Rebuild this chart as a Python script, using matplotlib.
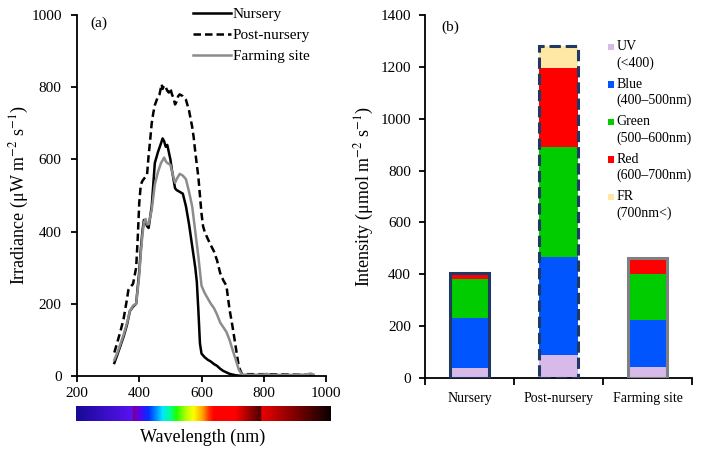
import numpy as np
import matplotlib
matplotlib.use("Agg")
import matplotlib.pyplot as plt
from matplotlib.colors import LinearSegmentedColormap
from matplotlib.patches import Rectangle

plt.rcParams["font.family"] = ["Liberation Serif", "DejaVu Serif"]
plt.rcParams["mathtext.fontset"] = "stix"

# ── panel (a): irradiance spectra ─────────────────────────────────────────────
wl_nursery = [320, 330, 340, 350, 360, 370, 380, 390, 400, 405, 410, 415, 420, 425,
              430, 435, 440, 450, 460, 470, 475, 480, 485, 490, 500, 505, 510, 515,
              520, 530, 540, 550, 560, 570, 580, 585, 590, 595, 600, 610, 620, 630,
              640, 650, 660, 670, 680, 690, 700, 710, 720, 730, 800, 960]
irr_nursery = [36, 60, 85, 110, 140, 180, 192, 200, 290, 350, 400, 432, 428, 415,
               410, 440, 470, 590, 620, 645, 658, 650, 635, 640, 600, 570, 545, 520,
               515, 510, 505, 470, 420, 360, 300, 260, 180, 90, 62, 52, 45, 40,
               33, 28, 20, 14, 10, 6, 4, 2, 1, 0, 0, 0]

wl_post = [320, 330, 340, 350, 360, 365, 370, 380, 390, 395, 400, 405, 410, 420, 425,
           430, 435, 440, 445, 450, 460, 465, 470, 472, 475, 480, 485, 490, 495, 500,
           505, 510, 515, 520, 525, 530, 540, 550, 560, 570, 575, 580, 590, 600, 605,
           610, 620, 630, 640, 650, 660, 670, 680, 690, 700, 710, 720, 730, 800, 960]
irr_post = [65, 95, 125, 160, 210, 238, 245, 255, 300, 380, 480, 530, 540, 552, 557,
            610, 653, 700, 728, 750, 774, 780, 800, 808, 795, 805, 800, 790, 785, 797,
            780, 770, 752, 760, 775, 780, 775, 765, 735, 690, 660, 620, 550, 450, 415,
            400, 380, 362, 345, 320, 285, 265, 250, 185, 135, 80, 25, 5, 5, 3]

wl_farm = [320, 330, 340, 350, 360, 370, 380, 390, 400, 405, 410, 415, 420, 425, 430,
           440, 450, 460, 470, 480, 485, 490, 500, 510, 515, 520, 530, 540, 550, 560,
           570, 580, 590, 600, 610, 620, 630, 640, 650, 660, 670, 680, 690, 700, 710,
           720, 730, 760, 800, 810, 820, 900, 940, 950, 960]
irr_farm = [45, 65, 90, 115, 145, 180, 195, 200, 280, 340, 390, 425, 435, 420, 420,
            460, 530, 565, 590, 605, 595, 590, 585, 550, 535, 545, 560, 555, 545, 510,
            470, 400, 330, 250, 230, 215, 200, 188, 170, 148, 135, 122, 100, 72, 45,
            17, 4, 3, 4, 6, 3, 3, 4, 7, 4]

# spectrum strip colours (wavelength nm, colour)
strip_stops = [(197, "#170a96"), (380, "#5a12f2"), (380, "#7a0088"), (400, "#5a00f0"),
               (430, "#0030ff"), (455, "#0090ff"), (475, "#00e8ff"), (500, "#00ff90"),
               (520, "#20ff00"), (550, "#b0ff00"), (575, "#ffff00"), (605, "#ffa000"),
               (625, "#ff3000"), (640, "#ff0000"), (710, "#ff0000"), (792, "#4a0000"),
               (792, "#ee0000"), (1017, "#0a0000")]

# ── panel (b): photon flux by waveband ───────────────────────────────────────
sites = ["Nursery", "Post-nursery", "Farming site"]
band_names = ["UV", "Blue", "Green", "Red", "FR"]
band_ranges = ["(<400)", "(400\u2013500nm)", "(500\u2013600nm)", "(600\u2013700nm)", "(700nm<)"]
uv = [40, 90, 42]
blue = [193, 375, 182]
green = [148, 424, 176]
red = [17, 307, 56]
fr = [6, 83, 6]
band_colors = ["#d7b9ea", "#0055ff", "#00cc00", "#ff0000", "#ffe8a6"]
outline_colors = ["#1f3864", "#1f3864", "#808080"]
outline_styles = ["-", "--", "-"]

fig = plt.figure(figsize=(7.02, 4.53), dpi=100)

ax = fig.add_axes([0.1097, 0.170, 0.3547, 0.797])
ax.plot(wl_nursery, irr_nursery, color="black", lw=1.8, label="Nursery")
ax.plot(wl_post, irr_post, color="black", lw=1.8, ls=(0, (3, 1.6)), label="Post-nursery")
ax.plot(wl_farm, irr_farm, color="#8c8c8c", lw=1.8, label="Farming site")
ax.set_xlim(200, 1000)
ax.set_ylim(0, 1000)
ax.set_xticks(range(200, 1001, 200))
ax.set_yticks(range(0, 1001, 200))
for s in ["top", "right"]:
    ax.spines[s].set_visible(False)
for s in ["left", "bottom"]:
    ax.spines[s].set_linewidth(1.3)
ax.tick_params(labelsize=11, width=1.3, length=4)
ax.tick_params(axis="y", pad=7)
ax.tick_params(axis="x", pad=4)
ax.set_ylabel("Irradiance (\u03bcW m$^{-2}$ s$^{-1}$)", fontsize=13, labelpad=0)
ax.text(0.055, 0.995, "(a)", transform=ax.transAxes, fontsize=11, va="top")
ax.legend(loc="upper left", bbox_to_anchor=(0.465, 1.02), frameon=False,
          fontsize=11, handlelength=2.5, handletextpad=0.1, labelspacing=0.47,
          borderaxespad=0, borderpad=0)

# spectrum strip under panel (a)
cmap = LinearSegmentedColormap.from_list(
    "spectrum", [((w - 197) / (1017 - 197), c) for w, c in strip_stops])
cax = fig.add_axes([0.1083, 0.0706, 0.363, 0.0331])
cax.imshow(np.linspace(0, 1, 512)[None, :], cmap=cmap, aspect="auto",
           extent=[197, 1017, 0, 1])
cax.axis("off")
fig.text(0.289, 0.035, "Wavelength (nm)", ha="center", va="center", fontsize=13)

# ── panel (b) ────────────────────────────────────────────────────────────────
bx = fig.add_axes([0.6054, 0.1656, 0.3803, 0.8013])
x = np.arange(len(sites))
w = 0.43
bottom = np.zeros(len(sites))
for vals, col in zip([uv, blue, green, red, fr], band_colors):
    bx.bar(x, vals, w, bottom=bottom, color=col, edgecolor="none", zorder=2)
    bottom += np.array(vals)
for i in range(len(sites)):
    bx.bar(x[i], bottom[i], w, fill=False, edgecolor=outline_colors[i],
           linestyle=outline_styles[i], lw=2.2, zorder=3)
bx.set_xlim(-0.5, 2.5)
bx.set_ylim(0, 1400)
bx.set_yticks(range(0, 1401, 200))
bx.set_xticks([-0.5, 0.5, 1.5, 2.5])
bx.set_xticklabels([])
bx.set_xticks(x, minor=True)
bx.set_xticklabels(sites, minor=True, fontsize=10)
bx.tick_params(axis="x", which="minor", length=0, pad=10)
bx.tick_params(axis="x", which="major", length=5, width=1.3, direction="out")
bx.tick_params(axis="y", labelsize=11, width=1.3, length=4, pad=6)
for s in ["top", "right"]:
    bx.spines[s].set_visible(False)
for s in ["left", "bottom"]:
    bx.spines[s].set_linewidth(1.3)
bx.set_ylabel("Intensity (\u03bcmol m$^{-2}$ s$^{-1}$)", fontsize=13, labelpad=3)
bx.text(0.06, 0.985, "(b)", transform=bx.transAxes, fontsize=11, va="top")

# waveband key: small square + two text lines per band
for i, (name, rng, col) in enumerate(zip(band_names, band_ranges, band_colors)):
    y0 = 0.912 - i * 0.1033
    bx.add_patch(Rectangle((0.686, y0 - 0.009), 0.022, 0.018, transform=bx.transAxes,
                           facecolor=col, edgecolor="none", clip_on=False))
    bx.text(0.717, y0, name, transform=bx.transAxes, fontsize=10, va="center")
    bx.text(0.717, y0 - 0.044, rng, transform=bx.transAxes, fontsize=10, va="center")

fig.savefig("out.png", dpi=100)
